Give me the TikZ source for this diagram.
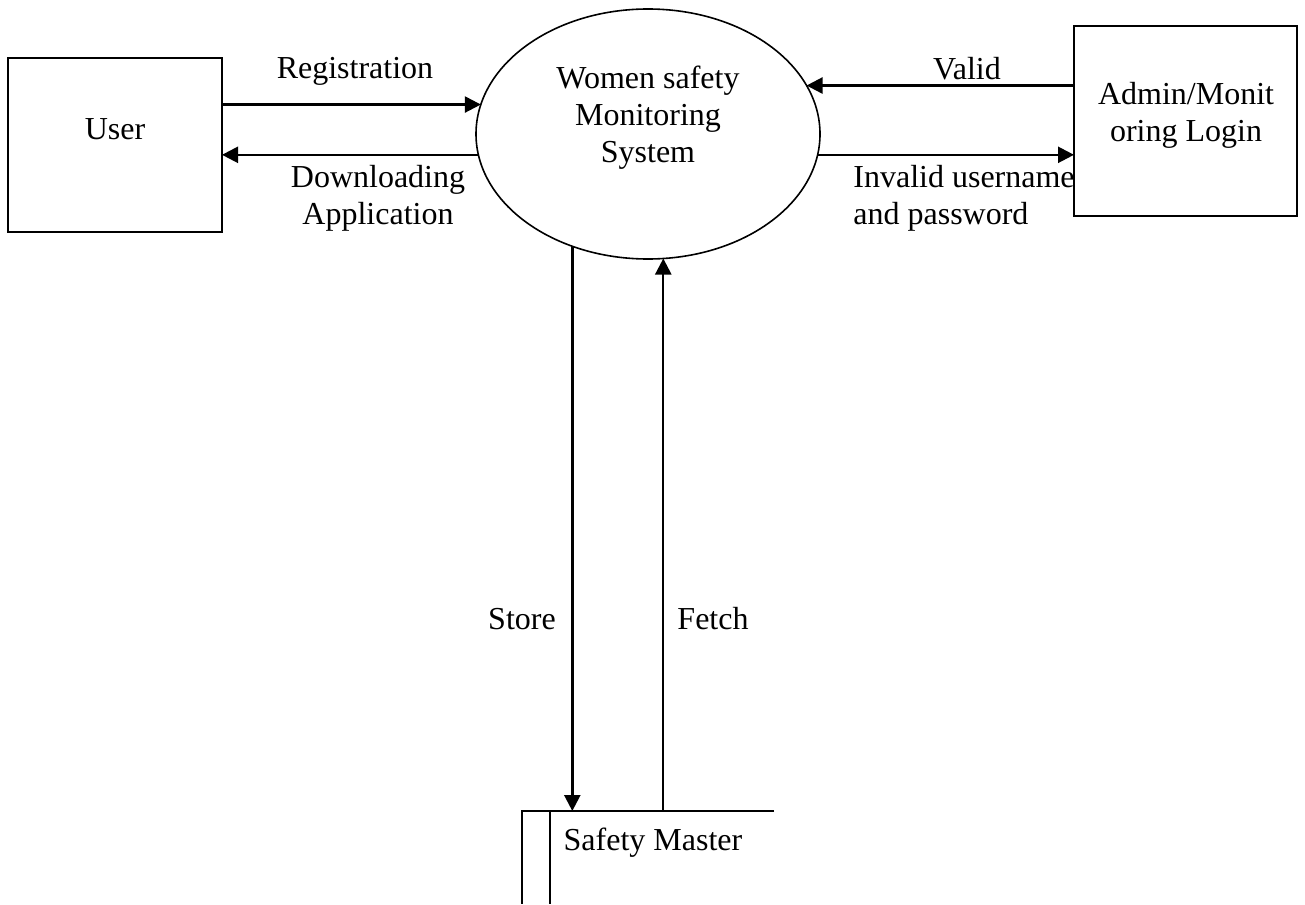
\documentclass[tikz,border=0pt]{standalone}
\usepackage{fontspec}
\setmainfont{Liberation Serif}
\usetikzlibrary{arrows.meta,shapes.geometric}

\begin{document}
\begin{tikzpicture}[
  x=0.5pt, y=-0.5pt,
  every node/.style={font=\fontsize{16}{18.5}\selectfont},
  entity/.style={rectangle, draw, line width=1pt, outer sep=0pt},
  process/.style={ellipse, draw, line width=0.8pt, minimum width=172pt, minimum height=125pt, inner sep=0pt, outer sep=0pt},
  lbl/.style={inner sep=0pt, align=center},
  flow/.style={draw, line width=1.2pt, -{Triangle[length=8pt,width=8pt]}}
]
\useasboundingbox (0,0) rectangle (1305,904);

\node[entity, minimum width=107pt, minimum height=87pt] (user) at (115,145) {};
\node[process] (sys) at (648,134) {};
\node[entity, minimum width=111.5pt, minimum height=95pt] (admin) at (1185.5,121) {};

\node[lbl] (usertext) at (115,129) {User};
\node[lbl] (systext) at (648,118) {Women safety\\Monitoring\\System};
\node[lbl] (admintext) at (1186,115) {Admin/Monit\\oring Login};

% data store
\coordinate (dsl) at (522,811);
\coordinate (dsi) at (550,811);
\coordinate (dsr) at (774,811);
\draw[line width=1pt] (dsr) -- (dsl) -- (dsl |- 0,904);
\draw[line width=1pt] (dsi) -- (dsi |- 0,904);
\node[lbl] (master) at (653,843) {Safety Master};

% flows
\draw[flow] (user.east |- sys.170.9) -- (sys.170.9);
\draw[flow] (sys.187.06) -- (user.east |- sys.187.06);
\draw[flow] (admin.west |- sys.17.6) -- (sys.17.6);
\draw[flow] (sys.-7.06) -- (admin.west |- sys.-7.06);
\draw[flow] (sys.236.7) -- (sys.236.7 |- dsl);
\draw[flow] (sys.277.8 |- dsl) -- (sys.277.8);

\node[lbl] (reg) at (355,71) {Registration};
\node[lbl] (down) at (378,198) {Downloading\\Application};
\node[lbl] (valid) at (967,69) {Valid};
\node[lbl, align=left, anchor=west] (invalid) at (853,198) {Invalid username\\and password};
\node[lbl] (store) at (522,619) {Store};
\node[lbl] (fetch) at (713,619) {Fetch};
\end{tikzpicture}
\end{document}
